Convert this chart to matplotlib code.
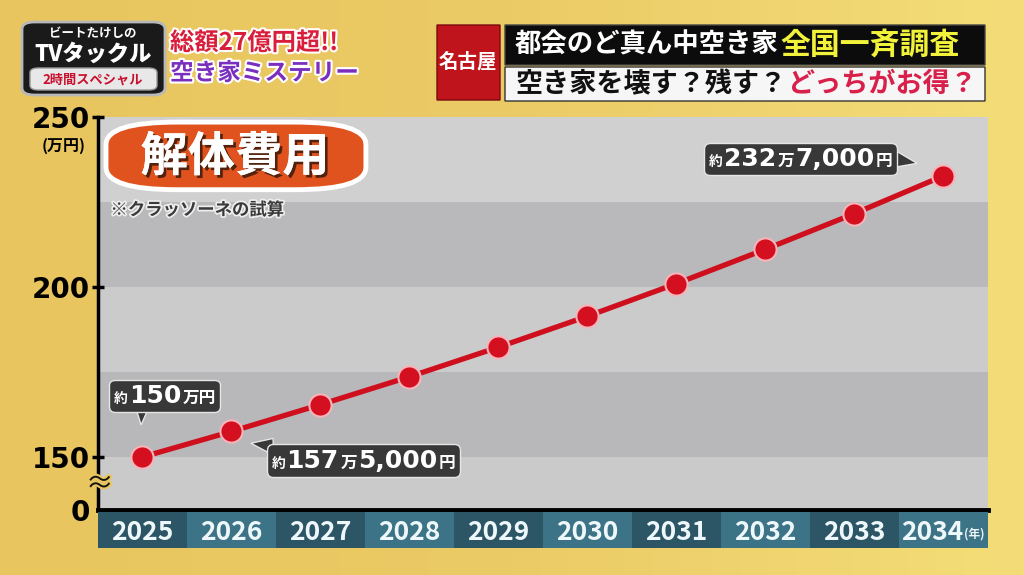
import numpy as np
import matplotlib.pyplot as plt
import matplotlib.patheffects as pe
from matplotlib.patches import FancyBboxPatch, Polygon
from matplotlib.colors import LinearSegmentedColormap
from matplotlib.transforms import Affine2D, ScaledTranslation
from matplotlib.offsetbox import TextArea, HPacker, AnnotationBbox

plt.rcParams['font.family'] = ['Noto Sans CJK JP', 'DejaVu Sans']
NUMFONT = ['DejaVu Sans', 'Noto Sans CJK JP']

# data (万円)
years = [2025, 2026, 2027, 2028, 2029, 2030, 2031, 2032, 2033, 2034]
cost = [150, 157.5, 165.4, 173.6, 182.3, 191.4, 201.0, 211.1, 221.6, 232.7]
ytick_vals = [150, 200, 250]
axis_floor = 134.4   # value drawn at the bottom of the broken axis (labelled 0)

W, H = 1024, 575
fig = plt.figure(figsize=(W / 100, H / 100), dpi=100)


def fx(px):
    return px / W


def fy(py):
    return 1 - py / H


# gold background
bg = fig.add_axes([0, 0, 1, 1], zorder=-10)
grad = np.linspace(0, 1, 256)[None, :]
bg.imshow(grad, aspect='auto', extent=[0, 1, 0, 1],
          cmap=LinearSegmentedColormap.from_list('g', ['#e8c55e', '#ebcb66', '#f4dd78']))
bg.axis('off')


# ---- header ----
def fbox(x0, y0, x1, y1, fc, ec='none', lw=0, r=0.0, z=1):
    p = FancyBboxPatch((fx(x0), fy(y1)), fx(x1 - x0), fy(y0) - fy(y1),
                       boxstyle=f'round,pad=0,rounding_size={r}', fc=fc, ec=ec, lw=lw,
                       transform=fig.transFigure, zorder=z)
    fig.add_artist(p)


outline = [pe.withStroke(linewidth=3, foreground='white')]
fbox(22, 22, 165, 95, '#1a1a1a', ec='#b8b8b8', lw=2, r=0.012)
fbox(30, 68, 157, 90, '#e8e8e8', ec='#999999', lw=1, r=0.008, z=2)
fig.text(fx(93), fy(34), 'ビートたけしの', color='white', fontsize=9, fontweight='bold', ha='center', va='center')
fig.text(fx(93), fy(54), 'TVタックル', color='white', fontsize=16, fontweight='heavy', ha='center', va='center')
fig.text(fx(93), fy(80), '2時間スペシャル', color='#c8102e', fontsize=9.5, fontweight='bold', ha='center', va='center', zorder=3)
fig.text(fx(170), fy(43), '総額27億円超!!', color='#d81e3a', fontsize=17.5, fontweight='bold', ha='left', va='center', path_effects=outline)
fig.text(fx(170), fy(73), '空き家ミステリー', color='#7b2fbf', fontsize=17, fontweight='bold', ha='left', va='center', path_effects=outline)

fbox(437, 25, 500, 100, '#c0141c', ec='#7a0a0e', lw=1)
fig.text(fx(468), fy(62), '名古屋', color='white', fontsize=14, fontweight='bold', ha='center', va='center', zorder=3)
fbox(505, 25, 985, 65, '#0c0c0c', ec='#444444', lw=1)
fbox(505, 67, 985, 101, '#f6f6f6', ec='#333333', lw=1)
fig.text(fx(515), fy(45), '都会のど真ん中空き家', color='white', fontsize=19, fontweight='bold', ha='left', va='center', zorder=3)
fig.text(fx(780), fy(45), '全国一斉調査', color='#f2f23a', fontsize=21.5, fontweight='bold', ha='left', va='center', zorder=3)
fig.text(fx(515), fy(84), '空き家を壊す？残す？', color='#111111', fontsize=19.5, fontweight='bold', ha='left', va='center', zorder=3)
fig.text(fx(788), fy(84), 'どっちがお得？', color='#d8204a', fontsize=19.5, fontweight='bold', ha='left', va='center', zorder=3)

# ---- main chart ----
ax = fig.add_axes([fx(98), fy(510), fx(988 - 98), fy(117) - fy(510)])
ax.set_xlim(years[0] - 0.5, years[-1] + 0.5)
ax.set_ylim(axis_floor, 250)
band_edges = [axis_floor, 150, 175, 200, 225, 250]
band_cols = ['#cacaca', '#b8b7b9', '#cbcbcb', '#b9b8ba', '#d0d0d0']
for lo, hi, c in zip(band_edges[:-1], band_edges[1:], band_cols):
    ax.axhspan(lo, hi, color=c, lw=0, zorder=0)

ax.plot(years, cost, color='#cf0f1e', lw=3.8, zorder=3, solid_capstyle='round')
ax.plot(years, cost, 'o', ms=16, mfc='#d40f1f', mec='#f6b4ba', mew=1.5, zorder=4)

for s in ['top', 'right']:
    ax.spines[s].set_visible(False)
ax.spines['left'].set_linewidth(2.5)
ax.spines['bottom'].set_linewidth(3.5)
ax.set_xticks([])
ax.set_yticks([axis_floor] + ytick_vals)
ax.set_yticklabels(['0'] + [str(v) for v in ytick_vals], fontsize=20, fontweight='bold', family=NUMFONT)
ax.tick_params(axis='y', direction='inout', length=9, width=2.5, pad=1)
ax.yaxis.get_major_ticks()[0].tick1line.set_visible(False)
ax.text(0.002, (142 - axis_floor) / (250 - axis_floor), '≈', transform=ax.transAxes,
        fontsize=20, ha='center', va='center', color='#111111', clip_on=False,
        path_effects=[pe.withStroke(linewidth=3, foreground='#e8c55e')])
fig.text(fx(64), fy(146), '(万円)', fontsize=11.5, fontweight='bold', ha='center', va='center')

# title pill
pill = FancyBboxPatch((0.009, 0.815), 0.292, 0.172, boxstyle='round,pad=0,rounding_size=0.08',
                      transform=ax.transAxes, fc='#e0531f', ec='white', lw=3.5, zorder=6,
                      mutation_aspect=0.35 * 890 / 393 * 0.9)
ax.add_patch(pill)
ax.text(0.154, 0.898, '解体費用', transform=ax.transAxes, fontsize=34, fontweight='bold',
        color='white', ha='center', va='center', zorder=7,
        path_effects=[pe.withSimplePatchShadow(offset=(2, -2), shadow_rgbFace='#3a1a0a', alpha=0.85),
                      pe.Normal()])
ax.text(0.014, 0.763, '※クラッソーネの試算', transform=ax.transAxes, fontsize=12.5, fontweight='bold',
        color='#3a3a3a', ha='left', va='center', zorder=6,
        path_effects=[pe.withStroke(linewidth=2.5, foreground='#eeeeee')])


def callout(i, parts, offset, tail):
    kids = [TextArea(t, textprops=dict(color='white', fontsize=fs, fontweight='bold', family=NUMFONT))
            for t, fs in parts]
    box = HPacker(children=kids, align='baseline', pad=0, sep=1)
    ab = AnnotationBbox(box, (years[i], cost[i]), xybox=offset, xycoords='data',
                        boxcoords='offset points', frameon=True, pad=0.35,
                        bboxprops=dict(boxstyle='round,pad=0.3,rounding_size=0.4',
                                       fc='#383838', ec='#e6e6e6', lw=1),
                        zorder=7)
    ax.add_artist(ab)
    # speech-bubble tail, in points relative to the data point
    trans = (Affine2D().scale(1 / 72) + fig.dpi_scale_trans
             + ScaledTranslation(years[i], cost[i], ax.transData))
    ax.add_patch(Polygon(tail, closed=True, transform=trans, fc='#383838', ec='#e6e6e6',
                         lw=1, zorder=6.5))


callout(0, [('約', 10), ('150', 18), ('万円', 12)], (16, 44),
        [(-6, 39), (6, 39), (-1, 23)])
callout(1, [('約', 10), ('157', 18), ('万', 12), ('5,000', 18), ('円', 12)], (95, -21),
        [(14, -8.5), (30, -5), (30, -17)])
callout(9, [('約', 10), ('232', 18), ('万', 12), ('7,000', 18), ('円', 12)], (-103, 12),
        [(-19, 9), (-36, 19), (-36, 6)])

# year band
bx = fig.add_axes([fx(98), fy(548), fx(988 - 98), fy(512) - fy(548)])
bx.set_xlim(ax.get_xlim())
bx.set_ylim(0, 1)
bx.bar(years, 1, width=1, align='center',
       color=['#2c5566' if k % 2 == 0 else '#3d7386' for k in range(len(years))])
bx.axis('off')
for yr in years[:-1]:
    bx.text(yr, 0.42, str(yr), color='#eef8fb', fontsize=19, fontweight='bold', ha='center', va='center')
bx.text(years[-1] + 0.22, 0.42, str(years[-1]), color='#eef8fb', fontsize=19, fontweight='bold', ha='right', va='center')
bx.text(years[-1] + 0.23, 0.38, '(年)', color='#eef8fb', fontsize=8.5, fontweight='bold', ha='left', va='center')

fig.savefig('out.png', dpi=100)
